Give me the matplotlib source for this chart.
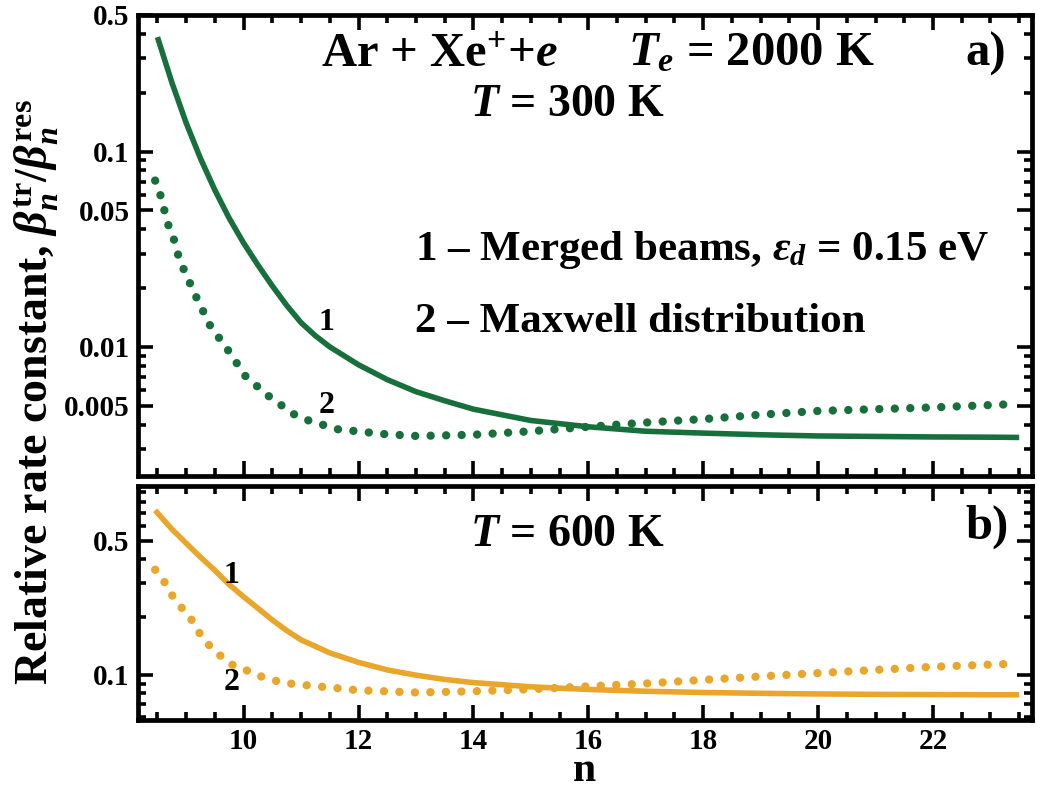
import numpy as np
import matplotlib
matplotlib.use("Agg")
import matplotlib.pyplot as plt
from matplotlib.ticker import FixedLocator, LogLocator, MultipleLocator, FixedFormatter, NullFormatter

plt.rcParams['font.family'] = 'Liberation Serif'
plt.rcParams['font.weight'] = 'bold'
plt.rcParams['axes.labelweight'] = 'bold'
plt.rcParams['mathtext.fontset'] = 'custom'
plt.rcParams['mathtext.rm'] = 'Liberation Serif:bold'
plt.rcParams['mathtext.bf'] = 'Liberation Serif:bold'
plt.rcParams['mathtext.it'] = 'Liberation Serif:italic:bold'

# T = 300 K (panel a)
n_a1 = [8.5, 8.75, 9.0, 9.25, 9.5, 9.75, 10.0, 10.25, 10.5, 10.75, 11.0, 11.25, 11.5,
        12.0, 12.5, 13.0, 13.5, 14.0, 15.0, 16.0, 17.0, 18.0, 19.0, 20.0, 21.0, 22.0,
        23.0, 23.5]
beam_a = [0.385, 0.226, 0.140, 0.092, 0.0634, 0.0455, 0.034, 0.0262, 0.0205, 0.0163,
          0.0133, 0.0114, 0.0100, 0.0081, 0.0068, 0.0059, 0.0053, 0.0048, 0.0042, 0.0039,
          0.0037, 0.00362, 0.00355, 0.0035, 0.00348, 0.00346, 0.00345, 0.00344]

n_a2 = [8.46, 8.55, 8.62, 8.69, 8.78, 8.86, 8.96, 9.19, 9.42, 9.72, 10.03, 10.4, 10.87,
        11.1, 11.63, 12.44, 13.0, 14.0, 15.0, 16.0, 17.0, 18.05, 19.0, 20.0, 21.0,
        22.0, 23.43]
maxw_a = [0.071, 0.060, 0.050, 0.042, 0.036, 0.0296, 0.0248, 0.0176, 0.0128, 0.0097,
          0.0071, 0.0057, 0.00453, 0.00423, 0.00379, 0.00358, 0.0035, 0.00355, 0.0037,
          0.0039, 0.0041, 0.00428, 0.0045, 0.0047, 0.0048, 0.0049, 0.0051]

# T = 600 K (panel b)
n_b1 = [8.46, 8.75, 9.0, 9.25, 9.5, 9.75, 10.0, 10.25, 10.5, 10.75, 11.0, 11.5, 12.0,
        12.5, 13.0, 13.5, 14.0, 15.0, 16.0, 17.0, 18.0, 19.0, 20.0, 21.0, 22.0, 23.0, 23.5]
beam_b = [0.72, 0.575, 0.485, 0.41, 0.35, 0.295, 0.255, 0.222, 0.193, 0.170, 0.152,
          0.130, 0.116, 0.106, 0.0995, 0.0945, 0.091, 0.0865, 0.0838, 0.0820, 0.0808,
          0.0800, 0.0794, 0.0790, 0.0788, 0.0786, 0.0786]

n_b2 = [8.46, 8.63, 8.78, 8.95, 9.12, 9.3, 9.52, 9.73, 10.03, 10.34, 10.67, 10.94,
        12.0, 13.0, 14.0, 15.0, 16.0, 17.0, 18.0, 19.0, 20.0, 21.0, 22.0, 23.0, 23.4]
maxw_b = [0.353, 0.302, 0.252, 0.218, 0.189, 0.152, 0.132, 0.115, 0.106, 0.097, 0.091,
          0.089, 0.083, 0.0808, 0.082, 0.084, 0.087, 0.090, 0.094, 0.098, 0.102,
          0.106, 0.110, 0.113, 0.114]

green = '#17703b'
orange = '#eaa62a'

fig = plt.figure(figsize=(10.37, 7.87), dpi=100)
ax1 = fig.add_axes([0.133, 0.395, 0.862, 0.586])
ax2 = fig.add_axes([0.133, 0.085, 0.862, 0.297])

dot = (0, (0.01, 1.85))
ax1.plot(n_a1, beam_a, color=green, lw=4.0, solid_capstyle='butt')
ax1.plot(n_a2, maxw_a, color=green, lw=6.0, ls=dot, dash_capstyle='round')
ax2.plot(n_b1, beam_b, color=orange, lw=4.0, solid_capstyle='butt')
ax2.plot(n_b2, maxw_b, color=orange, lw=6.0, ls=dot, dash_capstyle='round')

for ax in (ax1, ax2):
    ax.set_yscale('log')
    ax.set_xlim(8.16, 23.72)
    ax.xaxis.set_major_locator(MultipleLocator(2))
    ax.xaxis.set_minor_locator(MultipleLocator(0.5))
    ax.tick_params(which='both', direction='in', top=True, right=True, width=2.6,
                   labelsize=21, pad=6)
    ax.tick_params(which='major', length=11)
    ax.tick_params(which='minor', length=5.5)
    for s in ax.spines.values():
        s.set_linewidth(3.4)

ax1.set_ylim(0.00218, 0.5)
ticks_a = [0.005, 0.01, 0.05, 0.1, 0.5]
ax1.yaxis.set_major_locator(FixedLocator(ticks_a))
ax1.yaxis.set_major_formatter(FixedFormatter(['0.005', '0.01', '0.05', '0.1', '0.5']))
ax1.yaxis.set_minor_locator(LogLocator(subs=np.arange(2, 10)))
ax1.yaxis.set_minor_formatter(NullFormatter())
ax1.tick_params(labelbottom=False)

ax2.set_ylim(0.058, 0.96)
ax2.yaxis.set_major_locator(FixedLocator([0.1, 0.5]))
ax2.yaxis.set_major_formatter(FixedFormatter(['0.1', '0.5']))
ax2.yaxis.set_minor_locator(LogLocator(subs=np.arange(1, 10)))
ax2.yaxis.set_minor_formatter(NullFormatter())

# axis label n
fig.text(0.564, 0.008, 'n', fontsize=30, ha='center', va='baseline')

# annotations, panel a
ax1.text(0.205, 0.89, r'Ar + Xe$^{+}$+$e$', transform=ax1.transAxes, fontsize=35)
ax1.text(0.548, 0.89, r'$T_e$ = 2000 K', transform=ax1.transAxes, fontsize=35)
ax1.text(0.926, 0.89, 'a)', transform=ax1.transAxes, fontsize=35)
ax1.text(0.371, 0.78, r'$T$ = 300 K', transform=ax1.transAxes, fontsize=33)
ax1.text(0.31, 0.468, r'1 – Merged beams, $\varepsilon_d$ = 0.15 eV',
         transform=ax1.transAxes, fontsize=31)
ax1.text(0.31, 0.312, '2 – Maxwell distribution', transform=ax1.transAxes, fontsize=31)
ax1.text(11.3, 0.0122, '1', fontsize=23)
ax1.text(11.3, 0.0046, '2', fontsize=23)

# annotations, panel b
ax2.text(0.371, 0.745, r'$T$ = 600 K', transform=ax2.transAxes, fontsize=33)
ax2.text(0.926, 0.775, 'b)', transform=ax2.transAxes, fontsize=35)
ax2.text(9.65, 0.30, '1', fontsize=23)
ax2.text(9.65, 0.083, '2', fontsize=23)

fig.text(0.012, 0.502, r'Relative rate constant, $\beta_n^{\rm tr}/\beta_n^{\rm res}$',
         rotation=90, va='center', ha='left', fontsize=33)

fig.savefig('out.png', dpi=100)
